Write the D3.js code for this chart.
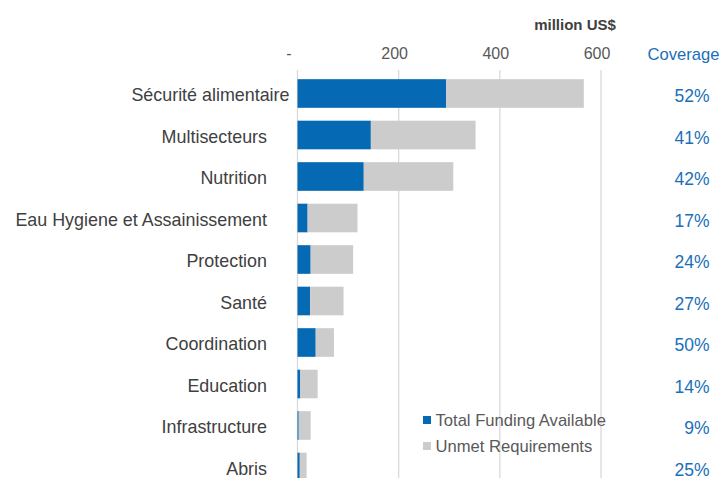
<!DOCTYPE html>
<html>
<head>
<meta charset="utf-8">
<script src="https://cdn.jsdelivr.net/npm/d3@7"></script>
<style>
  body { margin: 0; background: #fff; }
  svg { display: block; font-family: "Liberation Sans", Arial, sans-serif; }
</style>
</head>
<body>
<div id="chart"></div>
<script>
// data (million US$)
var sectors = ["Sécurité alimentaire", "Multisecteurs", "Nutrition",
  "Eau Hygiene et Assainissement", "Protection", "Santé", "Coordination",
  "Education", "Infrastructure", "Abris"];
var funded = [294, 145, 131, 20, 26, 25, 36, 5.6, 2.4, 4.5];
var unmet = [272, 207, 177, 98.6, 84, 66, 36, 34.2, 23.6, 13.5];
var coverage = ["52%", "41%", "42%", "17%", "24%", "27%", "50%", "14%", "9%", "25%"];
var tickValues = [0, 200, 400, 600];
var tickLabels = ["-", "200", "400", "600"];
var legendLabels = ["Total Funding Available", "Unmet Requirements"];

var blue = "#0569b4", grey = "#cccccc", textBlue = "#1a70b8";

var width = 721, height = 478;

var svg = d3.select("#chart").append("svg")
    .attr("width", width)
    .attr("height", height);

var x = d3.scaleLinear().domain([0, 600]).range([297.5, 601]);
var y = d3.scaleBand().domain(sectors)
    .range([72.75, 487.75])
    .paddingInner(0.31)
    .paddingOuter(0.155);

// gridlines
svg.append("g").selectAll("line")
    .data(tickValues)
    .enter().append("line")
    .attr("x1", function(d) { return x(d); })
    .attr("x2", function(d) { return x(d); })
    .attr("y1", 70)
    .attr("y2", height)
    .attr("stroke", "#d9d9d9")
    .attr("stroke-width", 1.3);

// tick labels on top
svg.append("g").selectAll("text")
    .data(tickValues)
    .enter().append("text")
    .attr("x", function(d, i) { return i === 0 ? 289 : x(d) - 4; })
    .attr("y", 58.5)
    .attr("text-anchor", "middle")
    .attr("font-size", 16)
    .attr("fill", "#595959")
    .text(function(d, i) { return tickLabels[i]; });

svg.append("text")
    .attr("x", 575)
    .attr("y", 30)
    .attr("text-anchor", "middle")
    .attr("font-size", 15)
    .attr("font-weight", "bold")
    .attr("fill", "#404040")
    .text("million US$");

svg.append("text")
    .attr("x", 719.5)
    .attr("y", 60)
    .attr("text-anchor", "end")
    .attr("font-size", 16.6)
    .attr("fill", textBlue)
    .text("Coverage");

var rows = sectors.map(function(s, i) {
  return {name: s, funded: funded[i], unmet: unmet[i], cov: coverage[i], i: i};
});

// funded bars
svg.append("g").selectAll("rect")
    .data(rows)
    .enter().append("rect")
    .attr("x", x(0))
    .attr("y", function(d) { return y(d.name); })
    .attr("width", function(d) { return x(d.funded) - x(0); })
    .attr("height", y.bandwidth())
    .attr("fill", blue);

// unmet bars stacked after funded
svg.append("g").selectAll("rect")
    .data(rows)
    .enter().append("rect")
    .attr("x", function(d) { return x(d.funded); })
    .attr("y", function(d) { return y(d.name); })
    .attr("width", function(d) { return x(d.funded + d.unmet) - x(d.funded); })
    .attr("height", y.bandwidth())
    .attr("fill", grey);

// category labels (first one sits further right, as in the source)
svg.append("g").selectAll("text")
    .data(rows)
    .enter().append("text")
    .attr("x", function(d) { return d.i === 0 ? 289.5 : 267; })
    .attr("y", function(d) { return y(d.name) + y.bandwidth() / 2 + 7.5; })
    .attr("text-anchor", "end")
    .attr("font-size", 17.9)
    .attr("fill", "#404040")
    .text(function(d) { return d.name; });

// coverage column
svg.append("g").selectAll("text")
    .data(rows)
    .enter().append("text")
    .attr("x", 709.5)
    .attr("y", function(d) { return y(d.name) + y.bandwidth() / 2 + 8.5; })
    .attr("text-anchor", "end")
    .attr("font-size", 17.5)
    .attr("fill", textBlue)
    .text(function(d) { return d.cov; });

// legend
var legend = svg.append("g").attr("transform", "translate(423,416)");
legend.selectAll("rect")
    .data(legendLabels)
    .enter().append("rect")
    .attr("x", 0)
    .attr("y", function(d, i) { return i * 26; })
    .attr("width", 8)
    .attr("height", 8)
    .attr("fill", function(d, i) { return i === 0 ? blue : grey; });
legend.selectAll("text")
    .data(legendLabels)
    .enter().append("text")
    .attr("x", 12.5)
    .attr("y", function(d, i) { return i * 26 + 9.5; })
    .attr("font-size", 16.6)
    .attr("fill", "#595959")
    .text(function(d) { return d; });
</script>
</body>
</html>
